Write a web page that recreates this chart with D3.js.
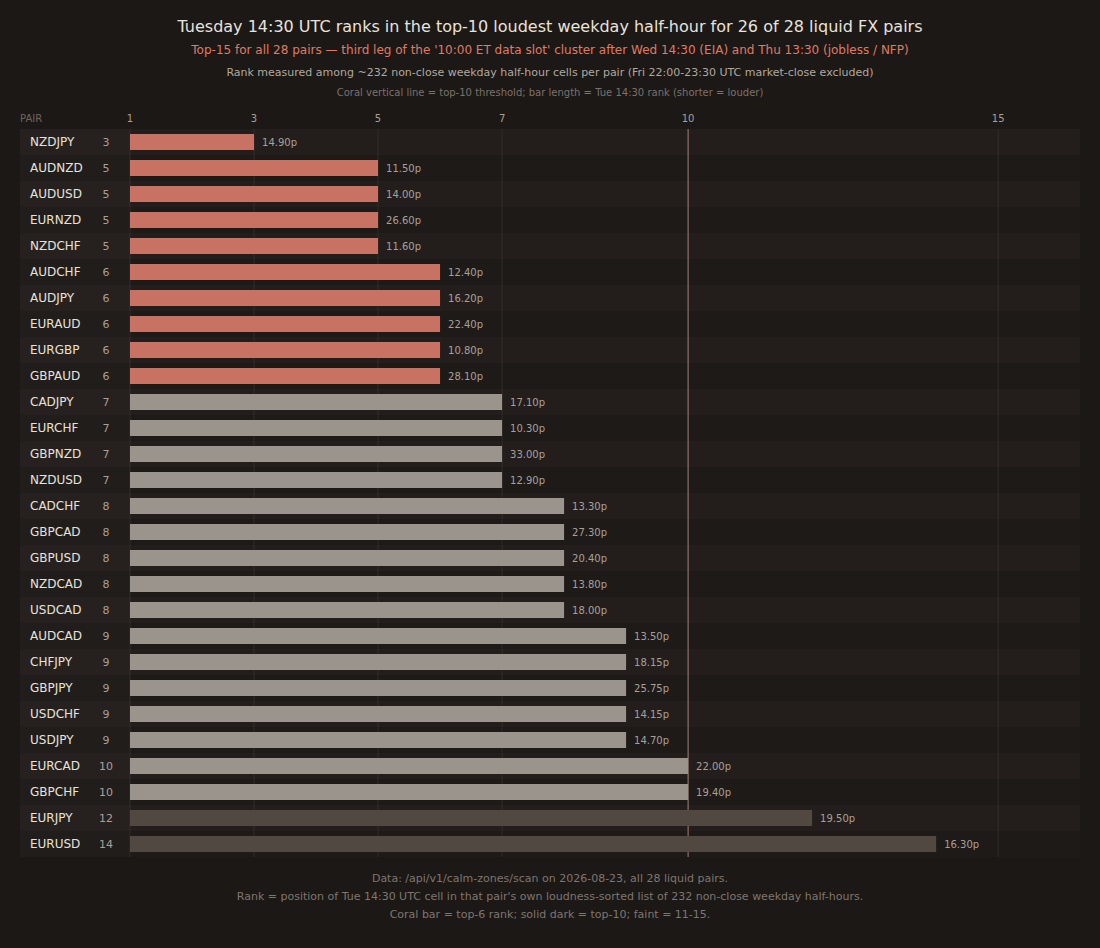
<!DOCTYPE html><html><head><meta charset="utf-8"><script src="https://cdn.jsdelivr.net/npm/d3@7"></script>
<style>body{margin:0;background:#1c1816;font-family:"DejaVu Sans",sans-serif}</style></head><body><svg id="c" width="1100" height="948"></svg>
<script>
const pairs=["NZDJPY","AUDNZD","AUDUSD","EURNZD","NZDCHF","AUDCHF","AUDJPY","EURAUD","EURGBP","GBPAUD","CADJPY","EURCHF","GBPNZD","NZDUSD","CADCHF","GBPCAD","GBPUSD","NZDCAD","USDCAD","AUDCAD","CHFJPY","GBPJPY","USDCHF","USDJPY","EURCAD","GBPCHF","EURJPY","EURUSD"];
const ranks=[3,5,5,5,5,6,6,6,6,6,7,7,7,7,8,8,8,8,8,9,9,9,9,9,10,10,12,14];
const pips=["14.90p","11.50p","14.00p","26.60p","11.60p","12.40p","16.20p","22.40p","10.80p","28.10p","17.10p","10.30p","33.00p","12.90p","13.30p","27.30p","20.40p","13.80p","18.00p","13.50p","18.15p","25.75p","14.15p","14.70p","22.00p","19.40p","19.50p","16.30p"];
const ticks=[1,3,5,7,10,15];
const svg=d3.select("#c");
const x=d3.scaleLinear().domain([1,16.32]).range([130,1080]);
const y=d3.scaleBand().domain(pairs).range([129,857]).padding(0);
const t=(tx,yy,s,c,sz,anc="middle")=>svg.append("text").attr("x",tx).attr("y",yy).attr("fill",c).attr("font-size",sz).attr("text-anchor",anc).text(s);
t(550,32,"Tuesday 14:30 UTC ranks in the top-10 loudest weekday half-hour for 26 of 28 liquid FX pairs","#e8e2dc",16);
t(550,54,"Top-15 for all 28 pairs — third leg of the '10:00 ET data slot' cluster after Wed 14:30 (EIA) and Thu 13:30 (jobless / NFP)","#e07a62",12);
t(550,76,"Rank measured among ~232 non-close weekday half-hour cells per pair (Fri 22:00-23:30 UTC market-close excluded)","#b0a89f",11);
t(550,96,"Coral vertical line = top-10 threshold; bar length = Tue 14:30 rank (shorter = louder)","#7a726b",10);
pairs.forEach((p,i)=>{svg.append("rect").attr("x",20).attr("y",y(p)).attr("width",1060).attr("height",y.bandwidth()).attr("fill",i%2?"#1e1a18":"#231e1c");});
svg.append("rect").attr("x",20).attr("y",129).attr("width",110).attr("height",728).attr("fill","#ffffff").attr("opacity",0.015);
ticks.forEach(v=>{svg.append("line").attr("x1",x(v)).attr("x2",x(v)).attr("y1",129).attr("y2",857).attr("stroke",v==10?"#c89a8c":"#ffffff").attr("stroke-opacity",v==10?0.8:0.07).attr("stroke-width",1);
 t(x(v),122,v,"#a8a098",10);});
t(20,122,"PAIR","#6e665f",10,"start");
pairs.forEach((p,i)=>{const r=ranks[i],cy=y(p)+13;
 svg.append("rect").attr("x",x(1)).attr("y",cy-8).attr("width",x(r)-x(1)).attr("height",16).attr("fill",r<=6?"#c87264":r<=10?"#9a948d":"#524842");
 t(30,cy+4,p,"#e8e2dc",12,"start");
 t(106,cy+4,r,"#a8a098",11);
 t(x(r)+8,cy+4,pips[i],"#a8a098",10,"start");});
t(550,882,"Data: /api/v1/calm-zones/scan on 2026-08-23, all 28 liquid pairs.","#7e766f",11);
t(550,900,"Rank = position of Tue 14:30 UTC cell in that pair's own loudness-sorted list of 232 non-close weekday half-hours.","#7e766f",11);
t(550,918,"Coral bar = top-6 rank; solid dark = top-10; faint = 11-15.","#7e766f",11);
</script></body></html>
